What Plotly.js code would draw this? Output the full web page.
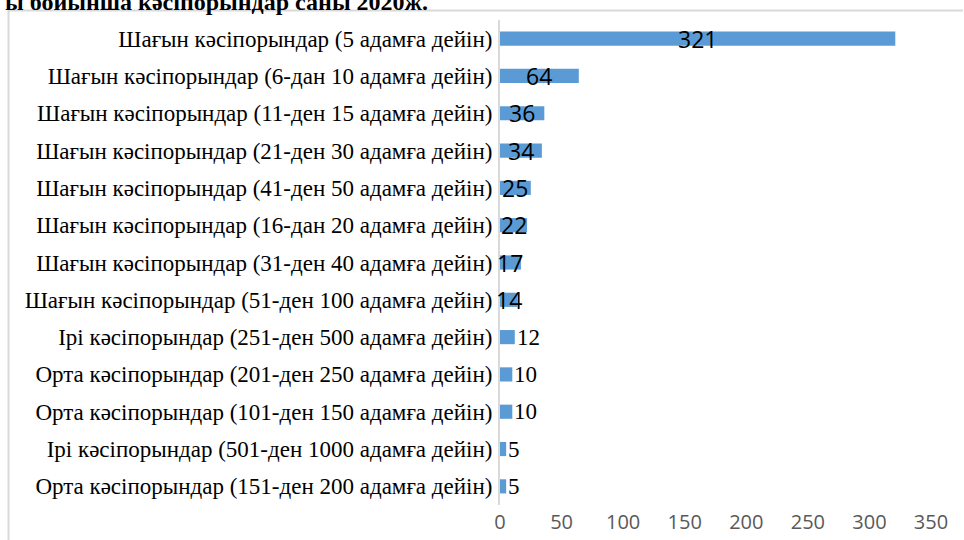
<!DOCTYPE html>
<html>
<head>
<meta charset="utf-8">
<script src="https://cdn.plot.ly/plotly-3.0.1.min.js"></script>
<style>html,body{margin:0;padding:0;background:#fff;}#chart{width:964px;height:540px;}</style>
</head>
<body>
<div id="chart"></div>
<script>
const titleText = "ы бойынша кәсіпорындар саны 2020ж.";
const categories = [
  "Шағын кәсіпорындар (5 адамға дейін)",
  "Шағын кәсіпорындар (6-дан 10 адамға дейін)",
  "Шағын кәсіпорындар (11-ден 15 адамға дейін)",
  "Шағын кәсіпорындар (21-ден 30 адамға дейін)",
  "Шағын кәсіпорындар (41-ден 50 адамға дейін)",
  "Шағын кәсіпорындар (16-дан 20 адамға дейін)",
  "Шағын кәсіпорындар (31-ден 40 адамға дейін)",
  "Шағын кәсіпорындар (51-ден 100 адамға дейін)",
  "Ірі кәсіпорындар (251-ден 500 адамға дейін)",
  "Орта кәсіпорындар (201-ден 250 адамға дейін)",
  "Орта кәсіпорындар (101-ден 150 адамға дейін)",
  "Ірі кәсіпорындар (501-ден 1000 адамға дейін)",
  "Орта кәсіпорындар (151-ден 200 адамға дейін)"
];
const values = [321, 64, 36, 34, 25, 22, 17, 14, 12, 10, 10, 5, 5];
const labelInside = [true, true, true, true, true, true, true, true, false, false, false, false, false];
const xTicks = [0, 50, 100, 150, 200, 250, 300, 350];

const trace = {
  type: 'bar',
  orientation: 'h',
  x: values,
  y: categories,
  marker: {color: '#5b9bd5'},
  hoverinfo: 'x+y'
};

const labelAnnotations = values.map((v, i) => labelInside[i] ? {
  x: v / 2, y: categories[i], xref: 'x', yref: 'y', text: String(v), showarrow: false,
  xanchor: 'center', yanchor: 'middle',
  font: {family: 'Open Sans, sans-serif', size: 23, color: '#000000'}
} : {
  x: v, y: categories[i], xref: 'x', yref: 'y', text: String(v), showarrow: false,
  xanchor: 'left', yanchor: 'middle',
  font: {family: 'Liberation Serif, serif', size: 23, color: '#000000'}
});

const layout = {
  width: 964, height: 540,
  margin: {l: 500, r: 33, t: 20, b: 35, pad: 0},
  paper_bgcolor: '#ffffff', plot_bgcolor: '#ffffff',
  showlegend: false,
  bargap: 0.62,
  xaxis: {
    range: [0, 350], tickvals: xTicks, ticktext: xTicks.map(String),
    showgrid: false, zeroline: false, showline: false, ticks: '',
    ticklabelstandoff: 3,
    tickfont: {family: 'Open Sans, sans-serif', size: 20, color: '#595959'},
    fixedrange: true
  },
  yaxis: {
    autorange: 'reversed', type: 'category',
    showgrid: false, zeroline: false, showline: true, linecolor: '#d9d9d9', linewidth: 2,
    ticks: '', ticklabelstandoff: 1,
    tickfont: {family: 'Liberation Serif, Times New Roman, serif', size: 23, color: '#000000'},
    fixedrange: true
  },
  annotations: [
    {text: '<b>' + titleText + '</b>', xref: 'paper', yref: 'paper', x: (430 - 500) / 431, y: 1 + 3 / 485,
     xanchor: 'right', yanchor: 'bottom', showarrow: false,
     font: {family: 'Liberation Serif, serif', size: 24, color: '#000000'}}
  ].concat(labelAnnotations)
};

Plotly.newPlot('chart', [trace], layout, {staticPlot: true}).then(() => {
  const svg = document.querySelector('#chart .main-svg');
  const ns = 'http://www.w3.org/2000/svg';
  const p = document.createElementNS(ns, 'path');
  p.setAttribute('d', 'M 8.5 540 L 8.5 10.5 L 963 10.5');
  p.setAttribute('stroke', '#d9d9d9');
  p.setAttribute('stroke-width', '2');
  p.setAttribute('fill', 'none');
  svg.insertBefore(p, svg.firstChild.nextSibling);
});
</script>
</body>
</html>
